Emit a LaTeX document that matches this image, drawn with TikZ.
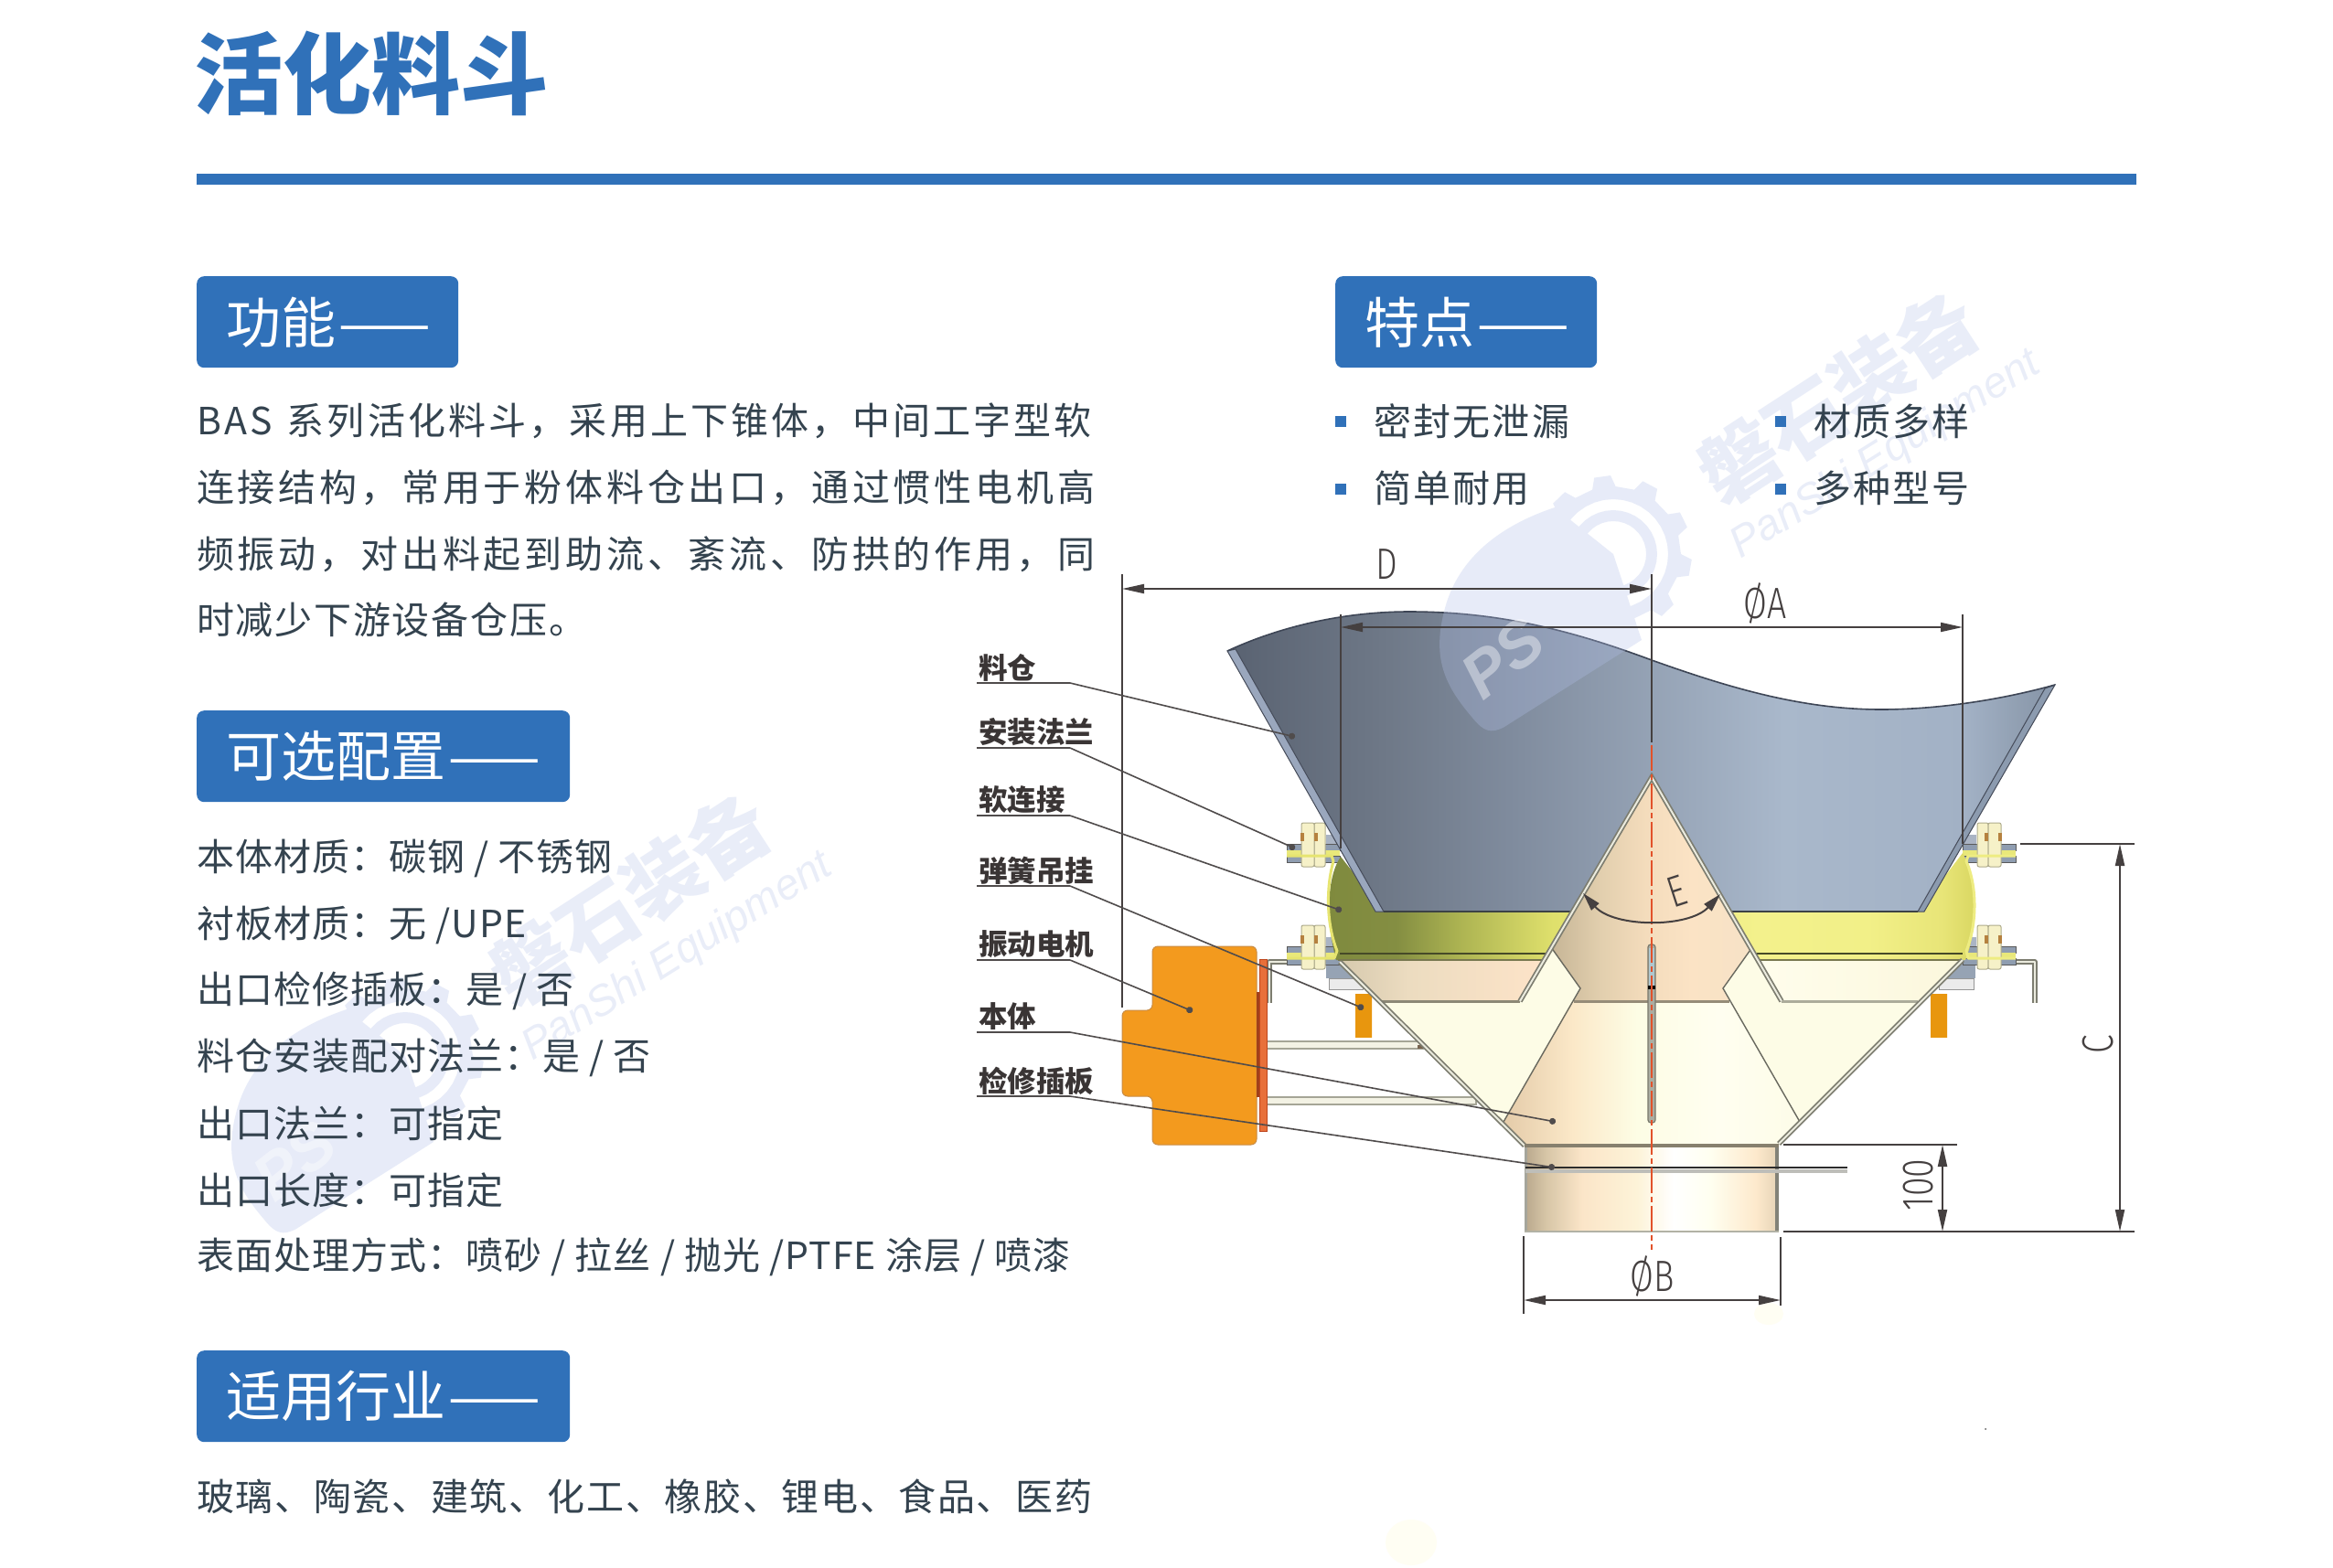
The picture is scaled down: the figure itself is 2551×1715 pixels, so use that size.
\documentclass[tikz,border=0pt]{standalone}
\usepackage{fontspec}
\setmainfont{Noto Sans CJK SC}
\newfontfamily\cjk{Noto Sans CJK SC}
\newfontfamily\bodyf[LetterSpace=9.3]{Noto Sans CJK SC}
\newfontfamily\bodyg[LetterSpace=7.7]{Noto Sans CJK SC}
\newfontfamily\bodyh[LetterSpace=4.3]{Noto Sans CJK SC}
\newfontfamily\listf[LetterSpace=2.5]{Noto Sans CJK SC}
\newfontfamily\indf[LetterSpace=4]{Noto Sans CJK SC}
\newfontfamily\featf[LetterSpace=5.5]{Noto Sans CJK SC}
\newfontfamily\dimf{Fira Sans Light}
\newfontfamily\wmf{Liberation Sans}
\usetikzlibrary{arrows.meta}
\newcommand\fsz[1]{\fontsize{#1}{#1}\selectfont}
\definecolor{brand}{HTML}{3071B9}
\definecolor{ink}{HTML}{34434F}
\definecolor{dimc}{HTML}{454040}
\definecolor{wmc}{HTML}{B2C0E8}
\definecolor{hA}{HTML}{596271}\definecolor{hB}{HTML}{6F7988}\definecolor{hC}{HTML}{7F8B9D}
\definecolor{hD}{HTML}{A9B8CB}\definecolor{hE}{HTML}{A2B1C5}\definecolor{hF}{HTML}{8593A5}
\pgfdeclarehorizontalshading{hoppershade}{100bp}{color(0bp)=(hA);color(25bp)=(hA);color(34.8bp)=(hB);color(42bp)=(hC);color(58.6bp)=(hD);color(69.6bp)=(hE);color(75bp)=(hF);color(100bp)=(hF)}
\definecolor{yA}{HTML}{7F8A3E}\definecolor{yB}{HTML}{848E42}\definecolor{yC}{HTML}{ADB452}\definecolor{yD}{HTML}{DFE06C}
\definecolor{yE}{HTML}{F3F18C}\definecolor{yF}{HTML}{F2F088}\definecolor{yG}{HTML}{E8E578}\definecolor{yH}{HTML}{D8D660}
\pgfdeclarehorizontalshading{softshade}{100bp}{color(0bp)=(yA);color(25bp)=(yA);color(30.4bp)=(yB);color(35.3bp)=(yC);color(42.4bp)=(yD);color(58bp)=(yE);color(66.5bp)=(yF);color(72.2bp)=(yG);color(75bp)=(yH);color(100bp)=(yH)}
\definecolor{bA}{HTML}{D6C9AE}\definecolor{bB}{HTML}{ECDCC0}\definecolor{bC}{HTML}{FDE3C8}
\pgfdeclarehorizontalshading{bandshade}{100bp}{color(0bp)=(bA);color(25bp)=(bA);color(41.9bp)=(bB);color(75bp)=(bC);color(100bp)=(bC)}
\definecolor{cA}{HTML}{C6B596}\definecolor{cB}{HTML}{E2CFAE}\definecolor{cC}{HTML}{F4DCBC}\definecolor{cD}{HTML}{FBE3C5}\definecolor{cE}{HTML}{F6E2C6}
\pgfdeclarehorizontalshading{coneshade}{100bp}{color(0bp)=(cA);color(25bp)=(cA);color(37.3bp)=(cB);color(48.6bp)=(cC);color(60bp)=(cD);color(75bp)=(cE);color(100bp)=(cE)}
\definecolor{fA}{HTML}{E4CBA9}\definecolor{fB}{HTML}{FBE8C8}\definecolor{fC}{HTML}{FDFDE5}\definecolor{fD}{HTML}{FFFEF0}\definecolor{fE}{HTML}{FDFCE8}
\pgfdeclarehorizontalshading{funnelshade}{100bp}{color(0bp)=(fA);color(25bp)=(fA);color(36.7bp)=(fB);color(47.5bp)=(fC);color(61.4bp)=(fD);color(75bp)=(fE);color(100bp)=(fE)}
\definecolor{oA}{HTML}{B8A78C}\definecolor{oB}{HTML}{D6C5A6}\definecolor{oC}{HTML}{FBE5C8}\definecolor{oD}{HTML}{FDF3D8}\definecolor{oE}{HTML}{FFFFFF}\definecolor{oF}{HTML}{FFFFF0}\definecolor{oG}{HTML}{FDE9CC}\definecolor{oH}{HTML}{E4D2B5}
\pgfdeclarehorizontalshading{outletshade}{100bp}{color(0bp)=(oA);color(25bp)=(oA);color(29.1bp)=(oB);color(36.3bp)=(oC);color(47.1bp)=(oD);color(54.3bp)=(oE);color(61.5bp)=(oF);color(70.5bp)=(oG);color(75bp)=(oH);color(100bp)=(oH)}
\definecolor{sprA}{HTML}{E8960E}\definecolor{sprB}{HTML}{FFD22C}
\tikzset{
  hdrbox/.style={fill=brand,rounded corners=8pt,anchor=north west,minimum height=100pt,inner ysep=0pt,inner xsep=0pt,text=white,font=\cjk\fsz{60},align=left},
  bodyline/.style={anchor=west,inner sep=0pt,text=ink,font=\bodyf\fsz{41}},
  listline/.style={anchor=west,inner sep=0pt,text=ink,font=\listf\fsz{41}},
  featline/.style={anchor=west,inner sep=0pt,text=ink,font=\featf\fsz{41}},
  partlabel/.style={anchor=west,inner sep=0pt,text={rgb,255:red,58;green,53;blue,53},font=\cjk\bfseries\fsz{31.5}},
  leader/.style={draw={rgb,255:red,80;green,76;blue,76},line width=1.6pt,-{Circle[length=7pt]}},
  dimline/.style={draw=dimc,line width=2pt},
  dimarrows/.style={dimline,{Triangle[length=24pt,width=10pt]}-{Triangle[length=24pt,width=10pt]}},
  dimtext/.style={inner sep=0pt,text=dimc,font=\dimf\fsz{48}},
  plate/.style={line width=5.5pt,draw={rgb,255:red,125;green,125;blue,112}},
  plateinner/.style={line width=2pt,draw={rgb,255:red,235;green,235;blue,222}},
  thinedge/.style={line width=1.4pt,draw={rgb,255:red,105;green,105;blue,95}},
  rod/.style={fill={rgb,255:red,243;green,242;blue,228},draw={rgb,255:red,165;green,165;blue,150},line width=1.6pt},
  bulletsq/.style={fill=brand,minimum size=12pt,inner sep=0pt,anchor=north west},
  wmfill/.style={fill=wmc,fill opacity=.3},
  wmtext/.style={text=wmc,text opacity=.28,inner sep=0pt}
}
\newcommand\boltgroup[3]{% x, y, xscale
  \begin{scope}[shift={(#1,#2)},xscale=#3]
    \fill[fill={rgb,255:red,170;green,180;blue,196}] (-15,-20) rectangle (0,-8);
    \fill[fill={rgb,255:red,143;green,157;blue,176},draw={rgb,255:red,90;green,90;blue,90},line width=.8pt] (-58,-10) rectangle (0,-3);
    \fill[fill={rgb,255:red,143;green,157;blue,176},draw={rgb,255:red,90;green,90;blue,90},line width=.8pt] (-58,3) rectangle (0,10);
    \fill[fill={rgb,255:red,233;green,232;blue,122}] (-58,-3) rectangle (0,3);
    \fill[fill={rgb,255:red,246;green,241;blue,200},draw={rgb,255:red,175;green,172;blue,140},line width=1pt,rounded corners=2pt] (-28,-33) rectangle (-16,15);
    \fill[fill={rgb,255:red,246;green,241;blue,200},draw={rgb,255:red,175;green,172;blue,140},line width=1pt,rounded corners=2pt] (-42,-33) rectangle (-28,15);
    \fill[fill={rgb,255:red,181;green,129;blue,63}] (-43,-22) rectangle (-39,-13);
    \fill[fill={rgb,255:red,181;green,129;blue,63}] (-28,-22) rectangle (-24,-13);
  \end{scope}}
\newcommand\wmark[2]{%
  \begin{scope}[shift={(#1,#2)}]
    \fill[wmfill]
      (31,94) -- (-119,189) .. controls (-134,197) and (-142,194) .. (-154,179)
        .. controls (-184,144) and (-199,114) .. (-184,59)
        .. controls (-169,4) and (-124,-31) .. (-64,-51) -- (0,0) -- cycle
      (0:74) \foreach \i in {0,...,9}{ -- ({\i*36}:74) -- ({\i*36+4}:86) -- ({\i*36+16}:86) -- ({\i*36+20}:74)} -- cycle
      (0:60) \foreach \i in {1,...,36}{ -- ({-\i*10}:60)} -- cycle
      (0:48) \foreach \i in {1,...,36}{ -- ({\i*10}:48)} -- cycle
      (0:36) \foreach \i in {1,...,36}{ -- ({-\i*10}:36)} -- cycle;
    \node[text=white,text opacity=.4,inner sep=0pt,rotate=38,font=\wmf\bfseries\itshape\fsz{70}] (wmps#1) at (-121,114) {PS};
    \node[wmtext,rotate=33,font=\cjk\bfseries\fsz{86}] (wmcn#1) at (246,-171) {磐石装备};
    \node[wmtext,rotate=32,font=\wmf\itshape\fsz{47}] (wmen#1) at (298,-108) {PanShi Equipment};
  \end{scope}}
\begin{document}
\begin{tikzpicture}[x=1pt,y=-1pt]
\useasboundingbox (0,0) rectangle (2551,1715);
\fill[white] (0,0) rectangle (2551,1715);

% ---- faint blots
\fill[fill={rgb,255:red,255;green,254;blue,243}] (1543,1687) ellipse [x radius=28,y radius=25];
\fill[fill={rgb,255:red,255;green,254;blue,243}] (1934,1437) ellipse [x radius=16,y radius=12];
\fill[fill={rgb,255:red,90;green,90;blue,90}] (2171,1563) circle [radius=1];

% ---- title and rule
\node[anchor=west,inner sep=0pt,text=brand,font=\cjk\bfseries\fsz{97}] (title) at (212,80) {活化料斗};
\fill[brand] (215,190) rectangle (2336,202);

% ---- motor brackets and rods
\draw[plate,line join=round] (1388,1097) -- (1388,1052) -- (1463,1052);
\draw[plateinner,line join=round] (1388,1097) -- (1388,1052) -- (1463,1052);
\draw[plate,line join=round] (2146,1052) -- (2225,1052) -- (2225,1097);
\draw[plateinner,line join=round] (2146,1052) -- (2225,1052) -- (2225,1097);
\filldraw[rod] (1385,1139) rectangle (1556,1147);
\filldraw[rod] (1385,1200) rectangle (1614,1208);
\fill[fill={rgb,255:red,120;green,100;blue,80}] (1550,1143) rectangle (1556,1147);

% ---- spring hangers
\fill[fill={rgb,255:red,150;green,163;blue,180}] (1450,1053) rectangle (1482,1070);
\fill[fill={rgb,255:red,235;green,235;blue,235},draw={rgb,255:red,150;green,150;blue,150}] (1453,1070) rectangle (1490,1082);
\shade[left color=sprA,middle color=sprB,right color=sprA] (1482,1087) rectangle (1500,1134);
\fill[fill={rgb,255:red,150;green,163;blue,180}] (2128,1053) rectangle (2160,1070);
\fill[fill={rgb,255:red,235;green,235;blue,235},draw={rgb,255:red,150;green,150;blue,150}] (2120,1070) rectangle (2158,1082);
\shade[left color=sprA,middle color=sprB,right color=sprA] (2111,1087) rectangle (2129,1134);

% ---- flange bolts
\boltgroup{1465}{933}{1}
\boltgroup{1465}{1045}{1}
\boltgroup{2146}{933}{-1}
\boltgroup{2146}{1045}{-1}

% ---- vibration motor
\fill[fill={rgb,255:red,243;green,154;blue,30},draw={rgb,255:red,200;green,140;blue,70},line width=1pt,rounded corners=6pt]
  (1260,1035) -- (1374,1035) -- (1374,1252) -- (1260,1252) -- (1260,1199) -- (1227,1199) -- (1227,1105) -- (1260,1105) -- cycle;
\fill[fill={rgb,255:red,160;green,64;blue,26}] (1374,1085) rectangle (1378,1200);
\fill[fill={rgb,255:red,232;green,112;blue,58},draw={rgb,255:red,190;green,70;blue,30},line width=1pt] (1377,1049) rectangle (1385,1237);

% ---- body
\fill[fill={rgb,255:red,253;green,252;blue,230}] (1465,1050) -- (2146,1050) -- (1945,1252) -- (1667,1252) -- cycle;
\shade[shading=bandshade] (1465,1050) -- (1687,1050) -- (1662,1095) -- (1510,1095) -- cycle;
\shade[left color={rgb,255:red,255;green,253;blue,236},right color={rgb,255:red,251;green,247;blue,220}] (1925,1050) -- (2146,1050) -- (2097,1095) -- (1948,1095) -- cycle;
\shade[shading=funnelshade] (1727,1081) -- (1644,1227) -- (1667,1252) -- (1945,1252) -- (1968,1227) -- (1885,1081) -- cycle;

% ---- soft connection
\shade[shading=softshade] (1466,937) .. controls (1450,960) and (1450,1010) .. (1461,1050) -- (2149,1050)
   .. controls (2163,1015) and (2163,965) .. (2146,933) -- (2097,997) -- (1513,997) -- cycle;
\draw[line width=3pt,draw={rgb,255:red,230;green,228;blue,112},line join=round] (1407,936) -- (1456,936) -- (1458,942) .. controls (1450,970) and (1450,1010) .. (1462,1040) -- (1459,1048) -- (1407,1048);
\draw[line width=3pt,draw={rgb,255:red,238;green,236;blue,130},line join=round] (2204,1048) -- (2152,1048) -- (2150,1040) .. controls (2162,1010) and (2162,970) .. (2150,942) -- (2152,936) -- (2204,936);
\draw[line width=2pt,draw={rgb,255:red,70;green,74;blue,40}] (1465,1043) -- (2146,1043);
\draw[line width=1.4pt,draw={rgb,255:red,120;green,120;blue,80}] (1463,1050) -- (2146,1050);

% ---- cream wedges beside the waist
\fill[fill={rgb,255:red,253;green,252;blue,230}] (1696,1036) -- (1728,1081) -- (1721,1095) -- (1662,1095) -- cycle;
\fill[fill={rgb,255:red,253;green,252;blue,230}] (1916,1036) -- (1884,1081) -- (1891,1095) -- (1948,1095) -- cycle;
\draw[line width=3pt,draw={rgb,255:red,140;green,136;blue,118}] (1510,1095) -- (1662,1095);
\draw[line width=3pt,draw={rgb,255:red,172;green,172;blue,155}] (1948,1095) -- (2097,1095);

% ---- hopper
\shade[shading=hoppershade] (1342,712) .. controls (1400,685) and (1470,669) .. (1541,669)
   .. controls (1640,669) and (1720,690) .. (1806,722)
   .. controls (1890,752) and (1970,776) .. (2057,776)
   .. controls (2120,776) and (2190,765) .. (2247,749)
   -- (2104,997) -- (1504,997) -- cycle;
\filldraw[fill={rgb,255:red,154;green,167;blue,189},draw={rgb,255:red,70;green,76;blue,90},line width=1pt] (1342,712) -- (1351,710) -- (1513,997) -- (1504,997) -- cycle;
\filldraw[fill={rgb,255:red,140;green,155;blue,175},draw={rgb,255:red,70;green,76;blue,90},line width=1pt] (2247,749) -- (2236,753) -- (2097,997) -- (2104,997) -- cycle;
\draw[line width=1.6pt,draw={rgb,255:red,62;green,70;blue,86}] (1342,712) .. controls (1400,685) and (1470,669) .. (1541,669)
   .. controls (1640,669) and (1720,690) .. (1806,722)
   .. controls (1890,752) and (1970,776) .. (2057,776)
   .. controls (2120,776) and (2190,765) .. (2247,749);
\draw[line width=2pt,draw={rgb,255:red,60;green,66;blue,70}] (1513,997) -- (2097,997);

% ---- inner cone
\shade[shading=coneshade] (1806,850) -- (1916,1036) -- (1884,1081) -- (1891,1095) -- (1721,1095) -- (1728,1081) -- (1696,1036) -- cycle;
\draw[line width=3pt,draw={rgb,255:red,150;green,140;blue,120}] (1721,1095) -- (1891,1095);
\draw[thinedge] (1696,1036) -- (1728,1081) -- (1644,1227);
\draw[thinedge] (1916,1036) -- (1884,1081) -- (1968,1227);
\draw[plate] (1662,1095) -- (1806,850) -- (1948,1095);
\draw[plateinner] (1662,1095) -- (1806,850) -- (1948,1095);

% ---- outer walls
\draw[plate] (1465,1052) -- (1667,1253);
\draw[plateinner] (1465,1052) -- (1667,1253);
\draw[plate] (2146,1050) -- (1945,1251);
\draw[plateinner] (2146,1050) -- (1945,1251);

% ---- outlet and gate
\shade[shading=outletshade] (1667,1252) rectangle (1945,1347);
\fill[fill={rgb,255:red,165;green,165;blue,155}] (1667,1254) rectangle (1670,1347);
\fill[fill={rgb,255:red,130;green,130;blue,120}] (1941,1254) rectangle (1945,1347);
\draw[line width=4pt,draw={rgb,255:red,135;green,128;blue,110}] (1667,1253) -- (1945,1253);
\draw[line width=2.5pt,draw={rgb,255:red,178;green,178;blue,165}] (1667,1347) -- (1945,1347);
\draw[line width=3.5pt,draw={rgb,255:red,190;green,190;blue,185}] (1668,1281) -- (2020,1281);
\draw[line width=2.4pt,draw={rgb,255:red,44;green,44;blue,44}] (1668,1277) -- (2020,1277);

% ---- centre slot
\filldraw[fill={rgb,255:red,172;green,172;blue,160},draw={rgb,255:red,120;green,120;blue,108},line width=1.2pt,rounded corners=3pt] (1802,1033) rectangle (1810,1228);
\fill[fill={rgb,255:red,176;green,198;blue,205}] (1803,1037) rectangle (1809,1078);
\fill[black] (1802,1078) rectangle (1810,1082);

% ---- watermarks
\wmark{1764}{606}
\wmark{443}{1155}

% ---- centre line
\coordinate (cltop) at (1806,628);
\coordinate (clmid) at (1806,812);
\coordinate (clred) at (1806,815);
\coordinate (clend) at (1806,1367);
\draw[dimline] (cltop) -- (clmid);
\draw[line width=1.8pt,draw={rgb,255:red,226;green,82;blue,42},dash pattern=on 28pt off 4pt on 6pt off 4pt] (clred) -- (clend);

% ---- dimensions
\coordinate (dL) at (1227,644); \coordinate (dR) at (1806,644);
\draw[dimline] (1227,628) -- (1227,1102);
\draw[dimarrows] (dL) -- (dR);
\node[dimtext,xscale=.78] (dtxt) at (1516,617) {D};
\coordinate (aL) at (1466,686); \coordinate (aR) at (2146,686);
\draw[dimline] (1466,672) -- (1466,928);
\draw[dimline] (2146,672) -- (2146,923);
\draw[dimarrows] (aL) -- (aR);
\node[dimtext,xscale=.78] (atxt) at (1930,660) {ØA};
\coordinate (bL) at (1666,1422); \coordinate (bR) at (1947,1422);
\draw[dimline] (1666,1352) -- (1666,1437);
\draw[dimline] (1947,1353) -- (1947,1428);
\draw[dimarrows] (bL) -- (bR);
\node[dimtext,xscale=.78] (btxt) at (1807,1396) {ØB};
\coordinate (cT) at (2318,923); \coordinate (cB) at (2318,1347);
\draw[dimline] (2209,923) -- (2334,923);
\draw[dimline] (1950,1347) -- (2334,1347);
\draw[dimarrows] (cT) -- (cB);
\node[dimtext,rotate=90,xscale=.78] (ctxt) at (2294,1142) {C};
\coordinate (hT) at (2124,1252); \coordinate (hB) at (2124,1347);
\draw[dimline] (1950,1252) -- (2140,1252);
\draw[dimarrows] (hT) -- (hB);
\node[dimtext,rotate=90,xscale=.78] (htxt) at (2098,1296) {100};
\coordinate (eL) at (1731,977); \coordinate (eR) at (1881,978);
\draw[dimline,{Triangle[length=20pt,width=11pt]}-{Triangle[length=20pt,width=11pt]}] (eL) .. controls (1765,1015) and (1847,1015) .. (eR);
\node[dimtext,rotate=18,xscale=.78] (etxt) at (1834,975) {E};

% ---- part labels with leaders
\node[partlabel] (p1) at (1070,730) {料仓};
\coordinate (p1a) at (1068,747); \coordinate (p1b) at (1170,747); \coordinate (p1c) at (1416,806);
\node[partlabel] (p2) at (1070,801) {安装法兰};
\coordinate (p2a) at (1068,818); \coordinate (p2b) at (1170,818); \coordinate (p2c) at (1416,928);
\node[partlabel] (p3) at (1070,875) {软连接};
\coordinate (p3a) at (1068,892); \coordinate (p3b) at (1170,892); \coordinate (p3c) at (1467,996);
\node[partlabel] (p4) at (1070,952) {弹簧吊挂};
\coordinate (p4a) at (1068,969); \coordinate (p4b) at (1170,969); \coordinate (p4c) at (1491,1103);
\node[partlabel] (p5) at (1070,1033) {振动电机};
\coordinate (p5a) at (1068,1050); \coordinate (p5b) at (1170,1050); \coordinate (p5c) at (1304,1106);
\node[partlabel] (p6) at (1070,1112) {本体};
\coordinate (p6a) at (1068,1129); \coordinate (p6b) at (1170,1129); \coordinate (p6c) at (1701,1227);
\node[partlabel] (p7) at (1070,1182) {检修插板};
\coordinate (p7a) at (1068,1199); \coordinate (p7b) at (1170,1199); \coordinate (p7c) at (1700,1277);
\foreach \n in {1,...,7}{
  \draw[line width=2.4pt,draw={rgb,255:red,80;green,76;blue,76}] (p\n a) -- (p\n b);
  \draw[leader] (p\n b) -- (p\n c);
}

% ---- section headers
\node[hdrbox,minimum width=286pt,text width=222pt] (h1) at (215,302) {\mbox{功能\hspace{3pt}——}};
\node[hdrbox,minimum width=286pt,text width=222pt] (h2) at (1460,302) {\mbox{特点\hspace{3pt}——}};
\node[hdrbox,minimum width=408pt,text width=344pt] (h3) at (215,777) {\mbox{可选配置\hspace{3pt}——}};
\node[hdrbox,minimum width=408pt,text width=344pt] (h4) at (215,1477) {\mbox{适用行业\hspace{3pt}——}};

% ---- function text
\node[bodyline,font=\bodyg\fsz{41}] (t1) at (215,460) {BAS\hspace{16pt}系列活化料斗，采用上下锥体，中间工字型软};
\node[bodyline] (t2) at (215,533) {连接结构，常用于粉体料仓出口，通过惯性电机高};
\node[bodyline] (t3) at (215,606) {频振动，对出料起到助流、紊流、防拱的作用，同};
\node[bodyline,font=\bodyh\fsz{41}] (t4) at (215,678) {时减少下游设备仓压。};

% ---- features
\node[bulletsq] (s1) at (1460,455) {};
\node[featline] (f1) at (1502,461) {密封无泄漏};
\node[bulletsq] (s2) at (1460,529) {};
\node[featline] (f2) at (1502,534) {简单耐用};
\node[bulletsq] (s3) at (1941,455) {};
\node[featline] (f3) at (1983,461) {材质多样};
\node[bulletsq] (s4) at (1941,529) {};
\node[featline] (f4) at (1983,534) {多种型号};

% ---- options
\node[listline] (o1) at (215,939) {本体材质：碳钢 / 不锈钢};
\node[listline] (o2) at (215,1012) {衬板材质：无 /UPE};
\node[listline] (o3) at (215,1084) {出口检修插板：是 / 否};
\node[listline] (o4) at (215,1157) {料仓安装配对法兰：是 / 否};
\node[listline] (o5) at (215,1229) {出口法兰：可指定};
\node[listline] (o6) at (215,1302) {出口长度：可指定};
\node[listline] (o7) at (215,1375) {表面处理方式：喷砂 / 拉丝 / 抛光 /PTFE 涂层 / 喷漆};

% ---- industries
\node[listline,font=\indf\fsz{41}] (i1) at (215,1637) {玻璃、陶瓷、建筑、化工、橡胶、锂电、食品、医药};
\end{tikzpicture}
\end{document}
